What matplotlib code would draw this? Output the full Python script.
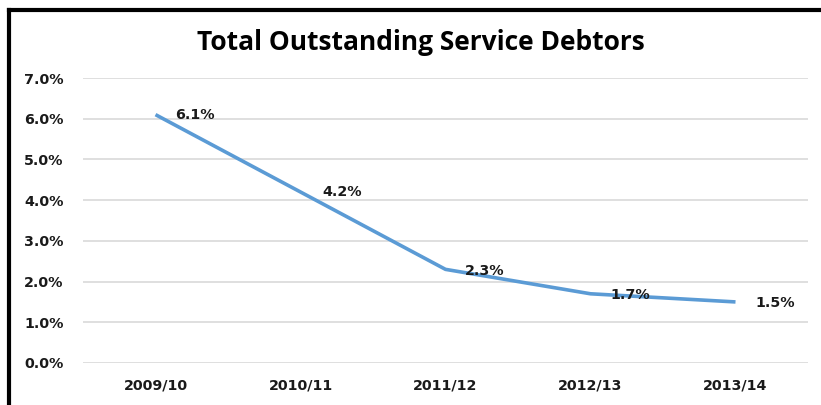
import matplotlib.pyplot as plt
from matplotlib.lines import Line2D

# Debtor ratio by financial year
years = ["2009/10", "2010/11", "2011/12", "2012/13", "2013/14"]
debtors_pct = [6.1, 4.2, 2.3, 1.7, 1.5]
yticks = [0, 1, 2, 3, 4, 5, 6, 7]

plt.rcParams['font.family'] = ['DejaVu Sans']

fig = plt.figure(figsize=(8.21, 4.05), dpi=100)
ax = fig.add_axes([83 / 821, 1 - 363 / 405, 725 / 821, (363 - 78) / 405])

x = list(range(len(years)))
ax.plot(x, debtors_pct, color="#5B9BD5", lw=2.6, solid_capstyle="butt")

# value labels sit just right of each point
offsets = [(14, 0), (15.5, 0), (14, -1.5), (14, -1), (14, -1)]
for xi, v, (dx, dy) in zip(x, debtors_pct, offsets):
    ax.annotate(f"{v:.1f}%", (xi, v), xytext=(dx, dy), textcoords="offset points",
                ha="left", va="center", fontsize=10.3, fontweight="bold", color="#1a1a1a")

ax.set_xlim(-0.5, len(years) - 0.5)
ax.set_ylim(0, 7)
ax.set_yticks(yticks)
ax.set_yticklabels([f"{t:.1f}%" for t in yticks])
ax.set_xticks(x)
ax.set_xticklabels(years)
ax.grid(axis="y", color="#D9D9D9", lw=1.2)
ax.set_axisbelow(True)
for s in ax.spines.values():
    s.set_visible(False)
ax.tick_params(length=0, labelsize=10.3, colors="#1a1a1a")
ax.tick_params(axis="x", pad=11)
ax.tick_params(axis="y", pad=14)
for lab in ax.get_xticklabels() + ax.get_yticklabels():
    lab.set_fontweight("bold")

fig.text(421 / 821, 1 - 43 / 405, "Total Outstanding Service Debtors", ha="center", va="center",
         fontsize=19, fontweight="bold", color="black", family="Open Sans")

# frame along top and left edges
fig.add_artist(Line2D([9 / 821, 1], [1 - 10 / 405] * 2, color="black", lw=3, transform=fig.transFigure))
fig.add_artist(Line2D([9 / 821] * 2, [0, 1 - 10 / 405], color="black", lw=3, transform=fig.transFigure))

fig.savefig("out.png", dpi=100, facecolor="white")
